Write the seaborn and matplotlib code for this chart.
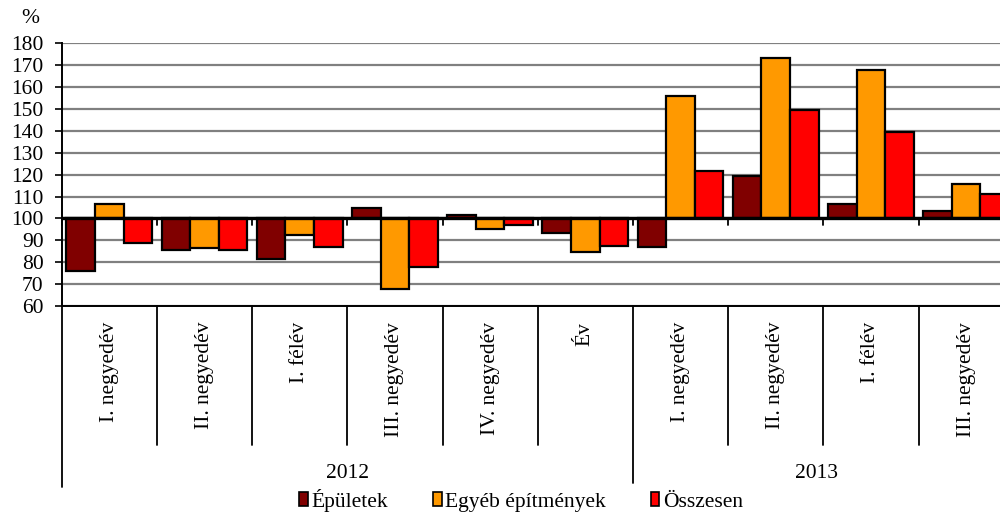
import matplotlib
matplotlib.use("Agg")
import matplotlib.pyplot as plt
import matplotlib.transforms as mtransforms
from matplotlib.patches import Patch
import seaborn as sns
import numpy as np
import pandas as pd

# periods and years for the two-level category axis
periods = ["I. negyedév", "II. negyedév", "I. félév", "III. negyedév", "IV. negyedév", "Év",
           "I. negyedév", "II. negyedév", "I. félév", "III. negyedév"]
years = ["2012", "2013"]
series = ["Épületek", "Egyéb építmények", "Összesen"]
epuletek = [76.1, 85.4, 81.4, 104.7, 101.5, 93.3, 86.9, 119.2, 106.7, 103.2]
egyeb = [106.7, 86.3, 92.4, 67.9, 95.4, 84.6, 156.0, 173.5, 167.7, 115.7]
osszesen = [88.9, 85.8, 86.9, 77.9, 97.1, 87.5, 121.7, 149.6, 139.6, 111.1]
colors = ["#800000", "#FF9900", "#FF0000"]

rows = []
for name, vals in zip(series, [epuletek, egyeb, osszesen]):
    for i, v in enumerate(vals):
        rows.append({"pos": i, "series": name, "value": v})
df = pd.DataFrame(rows)
df["dev"] = df["value"] - 100  # bars start at the 100 line

sns.set_theme(style="white")
plt.rcParams["font.family"] = ["Liberation Serif", "DejaVu Serif"]
plt.rcParams["text.color"] = "black"
FS = 15.5

fig = plt.figure(figsize=(10, 5.13), dpi=100)
ax = fig.add_axes([0.0617, 0.4035, 0.952, 0.512])

sns.barplot(data=df, x="pos", y="dev", hue="series", hue_order=series, palette=colors,
            width=0.9, errorbar=None, saturation=1, bottom=100, edgecolor="black",
            linewidth=1.6, legend=False, ax=ax, zorder=2)

ax.set_xlim(-0.5, 9.5)
ax.set_ylim(60, 180)
ax.set_yticks(np.arange(60, 181, 10))
ax.set_xticks([])
ax.set_xlabel("")
ax.set_ylabel("")
ax.yaxis.grid(True, color="#808080", lw=1.6)
ax.set_axisbelow(True)
for s in ["top", "right"]:
    ax.spines[s].set_visible(False)
for s in ["left", "bottom"]:
    ax.spines[s].set_color("black")
    ax.spines[s].set_linewidth(1.4)
ax.tick_params(axis="y", left=True, direction="out", length=5, width=1.2,
               color="black", labelsize=FS, labelcolor="black", pad=8)

# category axis at 100
ax.axhline(100, color="black", lw=2.4, zorder=3)
bounds = np.arange(-0.5, 10, 1)
for b in bounds:
    ax.plot([b, b], [100, 96.8], color="black", lw=1.3, zorder=3, clip_on=False)

# multi-level labels below the plot
trans = mtransforms.blended_transform_factory(ax.transData, ax.transAxes)
for b in bounds[:-1]:
    if b == -0.5:
        y1 = -0.689
    elif b == 5.5:
        y1 = -0.674
    else:
        y1 = -0.529
    ax.plot([b, b], [0, y1], transform=trans, color="black", lw=1.3, clip_on=False)

for i, lab in enumerate(periods):
    ax.text(i, -0.06, lab, rotation=90, ha="center", va="top", transform=trans,
            fontsize=FS, color="black")

ax.text(2.5, -0.636, years[0], ha="center", va="center", transform=trans, fontsize=FS)
ax.text(7.43, -0.636, years[1], ha="center", va="center", transform=trans, fontsize=FS)

fig.text(0.030, 1 - 19 / 513, "%", ha="center", va="center", fontsize=FS)

handles = [Patch(facecolor=c, edgecolor="black", lw=1.2) for c in colors]
fig.legend(handles, series, loc="center", bbox_to_anchor=(0.521, 0.025), ncol=3,
           frameon=False, handlelength=0.4, handleheight=0.6, handletextpad=0.15,
           columnspacing=2.1, fontsize=FS)

fig.savefig("out.png", dpi=100)
